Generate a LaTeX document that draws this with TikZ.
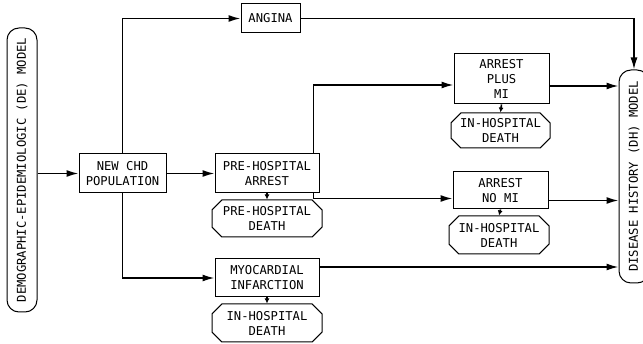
\documentclass[tikz,border=0pt]{standalone}
\usepackage{fontspec}
\newfontfamily\chartfont{DejaVu Sans Mono}
\usetikzlibrary{arrows.meta, shapes.misc}

\begin{document}
\begin{tikzpicture}[x=1pt, y=-1pt,
    box/.style={rectangle, draw, line width=1pt, align=center, inner sep=1pt,
                font=\chartfont\fontsize{12.2}{15}\selectfont},
    death/.style={chamfered rectangle, chamfered rectangle xsep=7pt, draw, line width=1pt,
                align=center, inner sep=1pt, font=\chartfont\fontsize{12.2}{15}\selectfont},
    model/.style={rectangle, rounded corners=12pt, draw, line width=1pt, rotate=90,
                minimum height=30pt, inner sep=1pt, font=\chartfont\fontsize{12.2}{15}\selectfont},
    arr/.style={-{Latex[length=12pt,width=7pt]}, line width=1.6pt},
    tip/.style={-{Latex[length=5pt,width=5pt]}, line width=1.6pt}
]
\useasboundingbox (0,0) rectangle (643,344);

\node[model, minimum width=284pt] (de) at (22,170) {DEMOGRAPHIC-EPIDEMIOLOGIC (DE) MODEL};
\node[model, minimum width=213pt] (dh) at (634,176.5) {DISEASE HISTORY (DH) MODEL};

\node[box, minimum width=87pt, minimum height=39pt]  (chd)    at (122.5,173.5) {NEW CHD\\POPULATION};
\node[box, minimum width=59pt, minimum height=29pt]  (angina) at (270.5,18.5)  {ANGINA};
\node[box, minimum width=104pt, minimum height=39pt] (pha)    at (267,173.5)   {PRE-HOSPITAL\\ARREST};
\node[death, minimum width=110pt, minimum height=37pt] (phd)  at (267,218.5)   {PRE-HOSPITAL\\DEATH};
\node[box, minimum width=104pt, minimum height=38pt] (mi)     at (267,278)     {MYOCARDIAL\\INFARCTION};
\node[death, minimum width=110pt, minimum height=38pt] (mid)  at (267,323)     {IN-HOSPITAL\\DEATH};
\node[box, minimum width=95pt, minimum height=50pt]  (apm)    at (501.5,79)    {ARREST\\PLUS\\MI};
\node[death, minimum width=99pt, minimum height=35pt] (apmd)  at (500.5,130.5) {IN-HOSPITAL\\DEATH};
\node[box, minimum width=95pt, minimum height=37pt]  (anm)    at (500.5,190.5) {ARREST\\NO MI};
\node[death, minimum width=100pt, minimum height=38pt] (anmd)  at (499,235)     {IN-HOSPITAL\\DEATH};

\coordinate (apmout) at ([yshift=-7pt]apm.east);
\coordinate (anmout) at ([yshift=-10pt]anm.east);
\coordinate (miout)  at ([yshift=11pt]mi.east);

\draw[arr] (de.south |- chd.west) -- (chd.west);
\draw[arr] (chd.north) |- (angina.west);
\draw[arr] (chd.south) |- (mi.west);
\draw[arr] (chd.east) -- (pha.west);
\draw[arr] (angina.east) -| (dh.east);
\draw[arr] ([xshift=-6pt]pha.north east) |- ([yshift=-6pt]apm.west);
\draw[arr] ([xshift=-6pt]pha.south east) |- ([yshift=-8pt]anm.west);
\draw[arr] (apmout) -- (apmout -| dh.north);
\draw[arr] (anmout) -- (anmout -| dh.north);
\draw[arr] (miout) -- (miout -| dh.north);
\foreach \a/\b in {pha/phd, mi/mid, apm/apmd, anm/anmd}
    \draw[tip] (\a.south) -- (\b.north);
\end{tikzpicture}
\end{document}
